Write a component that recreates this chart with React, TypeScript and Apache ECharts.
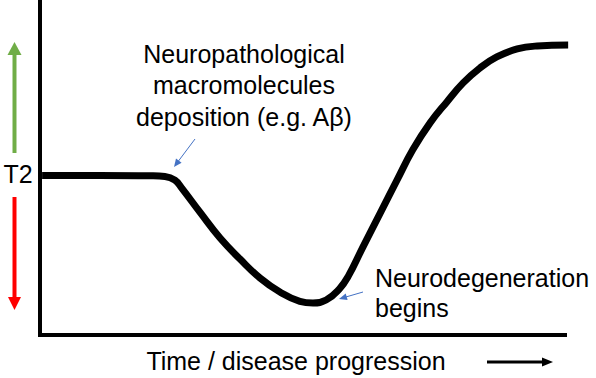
import React, { useEffect, useRef } from "react";
import * as echarts from "echarts";

// Curve: time/disease progression (0-100) vs relative T2 level (0-100)
const progress = [0.4, 11.4, 21.0, 23.8, 25.7, 27.0, 30.5, 34.3, 38.1, 41.9, 45.7, 49.5, 52.0, 54.5, 57.0, 58.7, 61.5, 64.8, 68.0, 71.0, 74.3, 77.5, 80.6, 83.8, 87.0, 90.9, 94.7, 100.6];
const t2Level = [47.9, 47.9, 47.8, 47.6, 46.5, 44.1, 36.8, 29.1, 22.8, 17.1, 12.9, 10.1, 9.6, 10.5, 13.8, 17.6, 26.4, 36.6, 46.5, 55.6, 63.7, 70.0, 75.7, 80.2, 83.5, 85.9, 86.8, 87.1];

const yLabel = "T2";
const xLabel = "Time / disease progression";
const note1 = ["Neuropathological", "macromolecules", "deposition (e.g. Aβ)"];
const note2 = ["Neurodegeneration", "begins"];

const FONT = 'Arial, "Liberation Sans", sans-serif';

function arrow(x1: number, y1: number, x2: number, y2: number, color: string, width: number, headLen: number, headW: number) {
  const dx = x2 - x1, dy = y2 - y1;
  const len = Math.sqrt(dx * dx + dy * dy);
  const ux = dx / len, uy = dy / len;
  const bx = x2 - ux * headLen, by = y2 - uy * headLen;
  const px = -uy * headW / 2, py = ux * headW / 2;
  return [
    { type: "line", shape: { x1, y1, x2: bx + ux * 1, y2: by + uy * 1 }, style: { stroke: color, lineWidth: width }, silent: true },
    { type: "polygon", shape: { points: [[x2, y2], [bx + px, by + py], [bx - px, by - py]] }, style: { fill: color }, silent: true },
  ];
}

export default function App() {
  const ref = useRef<HTMLDivElement>(null);
  useEffect(() => {
    if (!ref.current) return;
    const chart = echarts.init(ref.current, null, { renderer: "svg" });
    const data = progress.map((x, i) => [x, t2Level[i]]);
    chart.setOption({
      animation: false,
      backgroundColor: "#ffffff",
      grid: { left: 40, right: 31, top: 2, bottom: 43 },
      xAxis: {
        type: "value", min: 0, max: 100,
        axisLine: { show: true, onZero: false, lineStyle: { color: "#000", width: 4, cap: "square" } },
        axisTick: { show: false }, axisLabel: { show: false }, splitLine: { show: false },
      },
      yAxis: {
        type: "value", min: 0, max: 100,
        axisLine: { show: true, lineStyle: { color: "#000", width: 4, cap: "square" } },
        axisTick: { show: false }, axisLabel: { show: false }, splitLine: { show: false },
      },
      series: [
        {
          type: "line",
          data,
          smooth: 0.45,
          showSymbol: false,
          clip: false,
          lineStyle: { color: "#000", width: 7, cap: "butt", join: "round" },
        },
      ],
      graphic: [
        { type: "text", style: { text: yLabel, x: 18, y: 174, align: "center", verticalAlign: "middle", font: `25px ${FONT}`, fill: "#000" } },
        ...arrow(14.5, 153, 14.5, 42, "#70AD47", 4, 13, 14),
        ...arrow(14.5, 197, 14.5, 310, "#FF0000", 4, 13, 13),
        { type: "text", style: { text: note1.join("\n"), x: 244, y: 85, align: "center", verticalAlign: "middle", font: `25px ${FONT}`, lineHeight: 31.5, fill: "#000" } },
        ...arrow(195, 139, 174, 167, "#4472C4", 1, 8, 7),
        { type: "text", style: { text: note2.join("\n"), x: 375, y: 293, align: "left", verticalAlign: "middle", font: `25px ${FONT}`, lineHeight: 30, fill: "#000" } },
        ...arrow(363, 292, 339, 299, "#4472C4", 1, 8, 7),
        { type: "text", style: { text: xLabel, x: 296, y: 361, align: "center", verticalAlign: "middle", font: `25px ${FONT}`, fill: "#000" } },
        ...arrow(487, 362, 553, 362, "#000", 3, 11, 9),
      ],
    });
    return () => chart.dispose();
  }, []);
  return <div ref={ref} style={{ position: "fixed", left: 0, top: 0, width: 596, height: 378 }} />;
}
